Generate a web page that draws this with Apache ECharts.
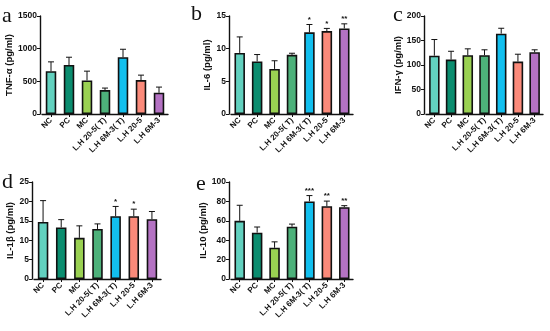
<!DOCTYPE html>
<html>
<head>
<meta charset="utf-8">
<script src="https://cdn.jsdelivr.net/npm/echarts@6/dist/echarts.min.js"></script>
<style>
html,body{margin:0;padding:0;background:#fff;}
#c{width:550px;height:331px;}
</style>
</head>
<body>
<div id="c"></div>
<script>
const categories = ['NC', 'PC', 'MC', 'L.H 20-5( T)', 'L.H 6M-3( T)', 'L.H 20-5', 'L.H 6M-3'];
const barColors = ['#62d1bf', '#0b8d6f', '#9ad152', '#4db17a', '#12bfee', '#fb8a7a', '#b472c3'];

const tnfMean = [656, 750, 513, 366, 869, 519, 325];
const tnfSD   = [142, 119, 143, 31, 122, 76, 87];
const tnfStars = ['', '', '', '', '', '', ''];

const il6Mean = [9.35, 8.05, 6.9, 9.05, 12.5, 12.7, 13.1];
const il6SD   = [2.45, 1.05, 1.25, 0.25, 1.2, 0.4, 0.7];
const il6Stars = ['', '', '', '', '*', '*', '**'];

const ifnMean = [119, 111, 120, 120, 164, 107, 126];
const ifnSD   = [33, 17, 13, 11, 11, 15, 5];
const ifnStars = ['', '', '', '', '', '', ''];

const il1bMean = [14.7, 13.3, 10.6, 12.9, 16.2, 16.2, 15.4];
const il1bSD   = [5.5, 2.0, 3.1, 1.3, 2.5, 1.8, 2.0];
const il1bStars = ['', '', '', '', '*', '*', ''];

const il10Mean = [60, 47.8, 32.2, 53.9, 80, 75, 74];
const il10SD   = [16, 5.8, 6.1, 2.7, 6, 5.3, 1.6];
const il10Stars = ['', '', '', '', '***', '**', '**'];

const panelLetters = ['a', 'b', 'c', 'd', 'e'];
const yNames = ['TNF-α (pg/ml)', 'IL-6 (pg/ml)', 'IFN-γ (pg/ml)', 'IL-1β (pg/ml)', 'IL-10 (pg/ml)'];
const yMax = [1500, 15, 200, 25, 100];
const yInterval = [500, 5, 50, 5, 20];

const panels = [
  {mean: tnfMean, sd: tnfSD, stars: tnfStars},
  {mean: il6Mean, sd: il6SD, stars: il6Stars},
  {mean: ifnMean, sd: ifnSD, stars: ifnStars},
  {mean: il1bMean, sd: il1bSD, stars: il1bStars},
  {mean: il10Mean, sd: il10SD, stars: il10Stars}
];

// layout
const gridLayout = [
  {left: 42, top: 16, width: 126, height: 98},
  {left: 231, top: 16, width: 122, height: 98},
  {left: 426, top: 16, width: 117, height: 98},
  {left: 34, top: 182, width: 127, height: 97},
  {left: 231, top: 182, width: 122, height: 97}
];
const nameGaps = [26, 17, 21, 17, 21];
const letterPos = [[2, 22], [191, 20], [393, 21], [2, 188], [196, 190]];

const fontSans = 'Liberation Sans, Arial, sans-serif';

const grids = [], xAxes = [], yAxes = [], series = [];
panels.forEach((p, k) => {
  grids.push(Object.assign({containLabel: false}, gridLayout[k]));
  xAxes.push({
    type: 'category', gridIndex: k, data: categories,
    axisLine: {lineStyle: {color: '#111', width: 1.4}},
    axisTick: {show: true, alignWithLabel: true, length: 3, lineStyle: {color: '#111', width: 1}},
    axisLabel: {rotate: 45, fontSize: 8, fontWeight: 'bold', color: '#111', fontFamily: fontSans, margin: 5, interval: 0}
  });
  yAxes.push({
    type: 'value', gridIndex: k, min: 0, max: yMax[k], interval: yInterval[k], offset: 2,
    name: yNames[k], nameLocation: 'middle', nameRotate: 90, nameGap: nameGaps[k],
    nameTextStyle: {fontSize: 9.5, fontWeight: 'bold', color: '#111', fontFamily: fontSans},
    axisLine: {show: true, lineStyle: {color: '#111', width: 1.4}},
    axisTick: {show: true, length: 3, lineStyle: {color: '#111', width: 1}},
    axisLabel: {fontSize: 8.5, fontWeight: 'bold', color: '#111', fontFamily: fontSans, margin: 3,
      formatter: function (v) { return String(v); }},
    splitLine: {show: false}
  });
  series.push({
    type: 'bar', xAxisIndex: k, yAxisIndex: k, barWidth: 10.5,
    data: p.mean.map((v, i) => ({value: v, itemStyle: {color: barColors[i]}})),
    itemStyle: {borderColor: '#111', borderWidth: 1.6},
    silent: true, animation: false
  });
  series.push({
    type: 'custom', xAxisIndex: k, yAxisIndex: k,
    data: p.mean.map((v, i) => [i, v, v + p.sd[i]]),
    renderItem: function (params, api) {
      const i = api.value(0);
      const p0 = api.coord([i, api.value(1)]);
      const p1 = api.coord([i, api.value(2)]);
      const star = p.stars[i];
      const children = [
        {type: 'line', shape: {x1: p0[0], y1: p0[1], x2: p1[0], y2: p1[1]}, style: {stroke: '#111', lineWidth: 1}},
        {type: 'line', shape: {x1: p1[0] - 3, y1: p1[1], x2: p1[0] + 3, y2: p1[1]}, style: {stroke: '#111', lineWidth: 1}}
      ];
      if (star) {
        children.push({type: 'text', style: {text: star, x: p1[0], y: p1[1] - 1, align: 'center', verticalAlign: 'bottom', fontSize: 8, fontWeight: 'bold', fill: '#111', fontFamily: fontSans}});
      }
      return {type: 'group', children: children};
    },
    z: 1, silent: true, animation: false
  });
});

const graphics = panelLetters.map((t, k) => ({
  type: 'text',
  style: {text: t, x: letterPos[k][0], y: letterPos[k][1] + 5, font: '22px "Liberation Serif", "Times New Roman", serif', fill: '#111', verticalAlign: 'bottom'}
}));

const chart = echarts.init(document.getElementById('c'), null, {renderer: 'canvas'});
chart.setOption({
  animation: false,
  backgroundColor: '#fff',
  grid: grids, xAxis: xAxes, yAxis: yAxes, series: series,
  graphic: graphics
});
</script>
</body>
</html>
